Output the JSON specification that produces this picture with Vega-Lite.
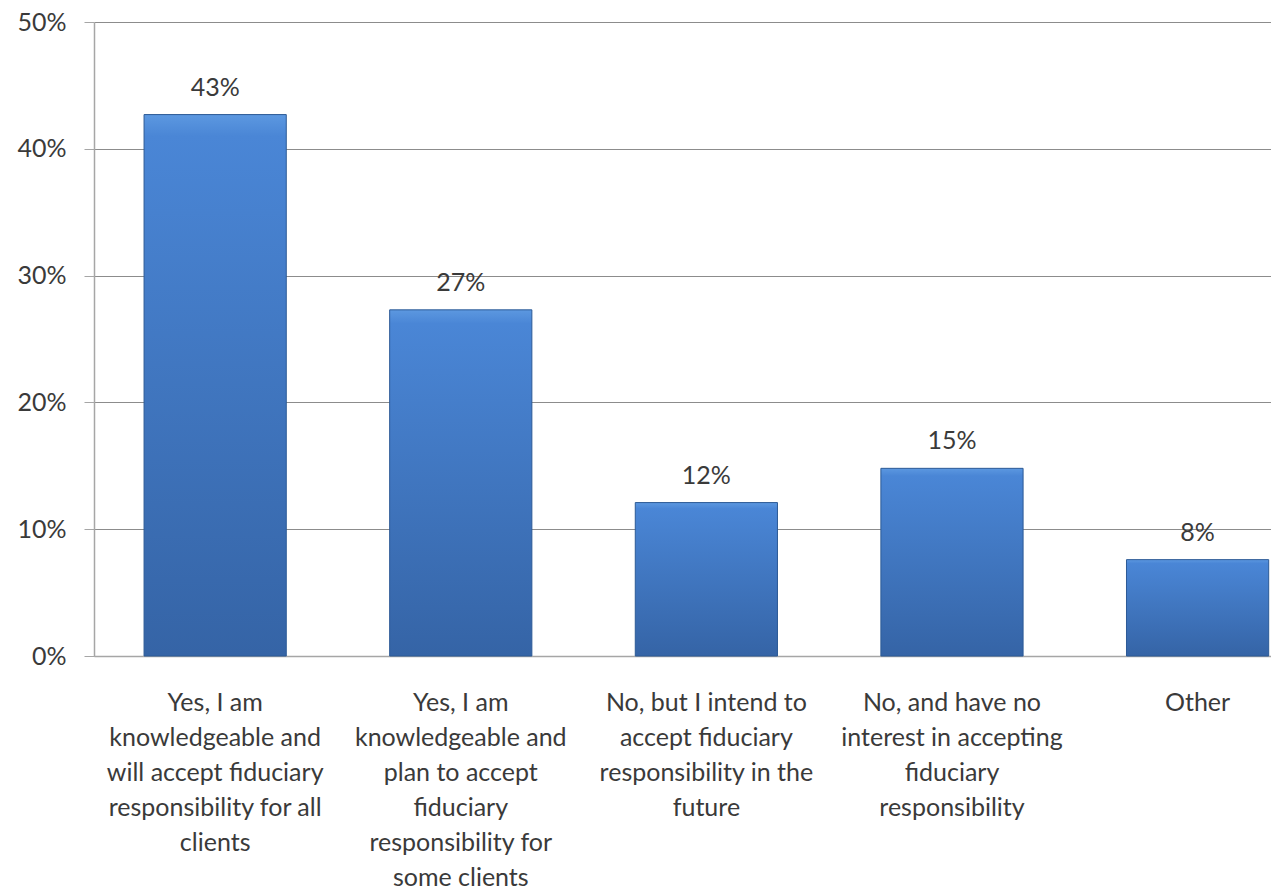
{
  "$schema": "https://vega.github.io/schema/vega-lite/v6.json",
  "width": 1177,
  "height": 634,
  "autosize": {"type": "none"},
  "padding": {"left": 94, "top": 22, "right": 0, "bottom": 240},
  "background": "white",
  "config": {
    "view": {"stroke": null},
    "font": "Lato",
    "axis": {"labelFont": "Lato", "labelFontSize": 25, "labelColor": "#3a3a3a"}
  },
  "data": {
    "values": [
      {"category": "Yes, I am|knowledgeable and|will accept fiduciary|responsibility for all|clients", "value": 0.427},
      {"category": "Yes, I am|knowledgeable and|plan to accept|fiduciary|responsibility for|some clients", "value": 0.273},
      {"category": "No, but I intend to|accept fiduciary|responsibility in the|future", "value": 0.121},
      {"category": "No, and have no|interest in accepting|fiduciary|responsibility", "value": 0.148},
      {"category": "Other", "value": 0.076}
    ]
  },
  "encoding": {
    "x": {
      "field": "category",
      "type": "nominal",
      "sort": null,
      "scale": {"paddingInner": 0.421, "paddingOuter": 0.1066, "align": 0.956},
      "axis": {
        "title": null,
        "labelAngle": 0,
        "labelExpr": "split(datum.label, '|')",
        "labelLineHeight": 35,
        "labelPadding": 34,
        "labelBaseline": "top",
        "ticks": false,
        "domainColor": "#a6a6a6",
        "domainWidth": 1.5,
        "labelLimit": 400
      }
    },
    "y": {
      "field": "value",
      "type": "quantitative",
      "scale": {"domain": [0, 0.5]},
      "axis": {
        "title": null,
        "format": ".0%",
        "values": [0, 0.1, 0.2, 0.3, 0.4, 0.5],
        "grid": true,
        "gridColor": "#8c8c8c",
        "gridWidth": 1,
        "domainColor": "#a6a6a6",
        "domainWidth": 1.5,
        "tickColor": "#a6a6a6",
        "tickSize": 10,
        "labelPadding": 18
      }
    }
  },
  "layer": [
    {
      "mark": {
        "type": "bar",
        "stroke": "#2c5a96",
        "strokeWidth": 1,
        "color": {
          "gradient": "linear",
          "x1": 0, "y1": 0, "x2": 0, "y2": 1,
          "stops": [
            {"offset": 0, "color": "#5c98e0"},
            {"offset": 0.04, "color": "#4a86d6"},
            {"offset": 1, "color": "#3564a6"}
          ]
        }
      }
    },
    {
      "mark": {
        "type": "text",
        "baseline": "alphabetic",
        "dy": -19,
        "fontSize": 25,
        "font": "Lato",
        "color": "#3a3a3a"
      },
      "encoding": {
        "text": {"field": "value", "type": "quantitative", "format": ".0%"}
      }
    }
  ]
}
